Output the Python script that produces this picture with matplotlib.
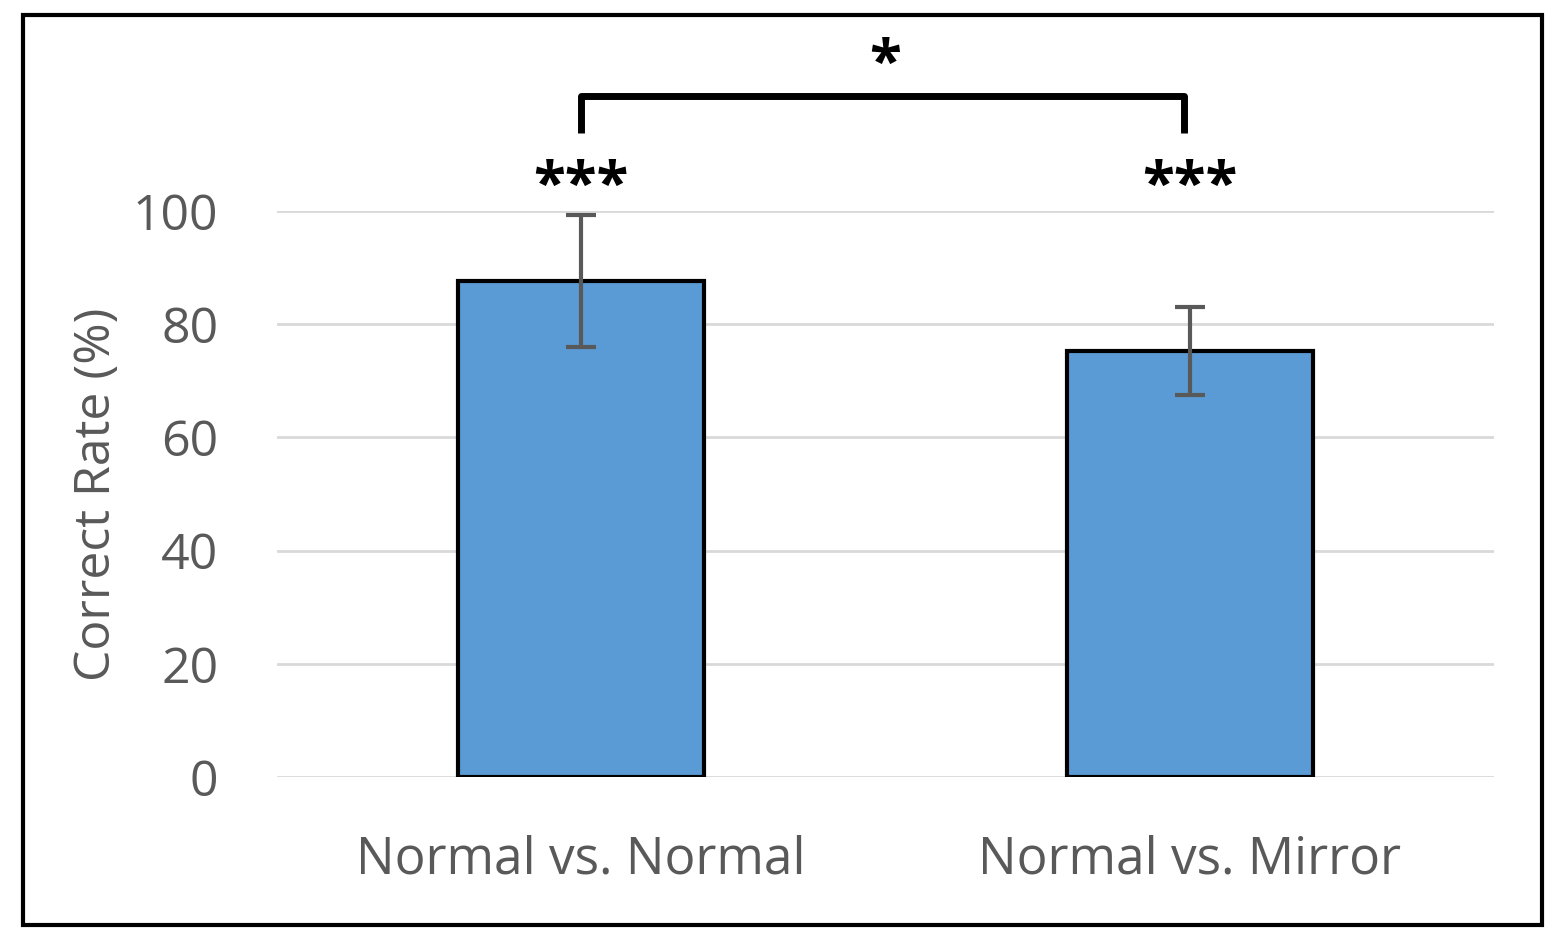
import matplotlib as mpl
import matplotlib.pyplot as plt

mpl.rcParams['font.family'] = ['Open Sans', 'DejaVu Sans']

categories = ['Normal vs. Normal', 'Normal vs. Mirror']
means = [87.6, 75.3]
errors = [11.7, 7.8]
bar_stars = ['***', '***']
pair_star = '*'

fig = plt.figure(figsize=(15.55, 9.41), dpi=100)
ax = fig.add_axes([0.178, 0.174, 0.783, 0.602])

x = range(len(categories))
ax.bar(x, means, width=0.405, color='#5b9bd5', edgecolor='black', linewidth=3, zorder=3)
ax.errorbar(x, means, yerr=errors, fmt='none', ecolor='#595959', elinewidth=3,
            capsize=11, capthick=3, zorder=4)

ax.set_xlim(-0.5, 1.5)
ax.set_ylim(0, 100)
ax.set_yticks([0, 20, 40, 60, 80, 100])
ax.yaxis.grid(True, color='#d9d9d9', linewidth=2, zorder=0)
ax.set_axisbelow(True)
for s in ax.spines.values():
    s.set_visible(False)
ax.tick_params(length=0, labelsize=36, colors='#595959')
ax.tick_params(axis='y', pad=42)
ax.tick_params(axis='x', labelsize=37, pad=41)
ax.set_xticks(list(x))
ax.set_xticklabels(categories)
ax.set_ylabel('Correct Rate (%)', fontsize=36, color='#595959', labelpad=8)

# significance markers
for i, s in enumerate(bar_stars):
    ax.text(i, 104.0, s, ha='center', va='center', fontsize=42, fontweight='bold',
            clip_on=False)
ax.plot([0, 0, 0.99, 0.99], [113.7, 120.2, 120.2, 113.7], color='black', linewidth=5,
        clip_on=False, solid_joinstyle='round', solid_capstyle='butt')
ax.text(0.5, 125.5, pair_star, ha='center', va='center', fontsize=42,
        fontweight='bold', clip_on=False)

# outer frame
fig.patches.append(plt.Rectangle((0.0145, 0.017), 0.977, 0.967, transform=fig.transFigure,
                                 fill=False, edgecolor='black', linewidth=3))

fig.savefig('out.png', dpi=100)
